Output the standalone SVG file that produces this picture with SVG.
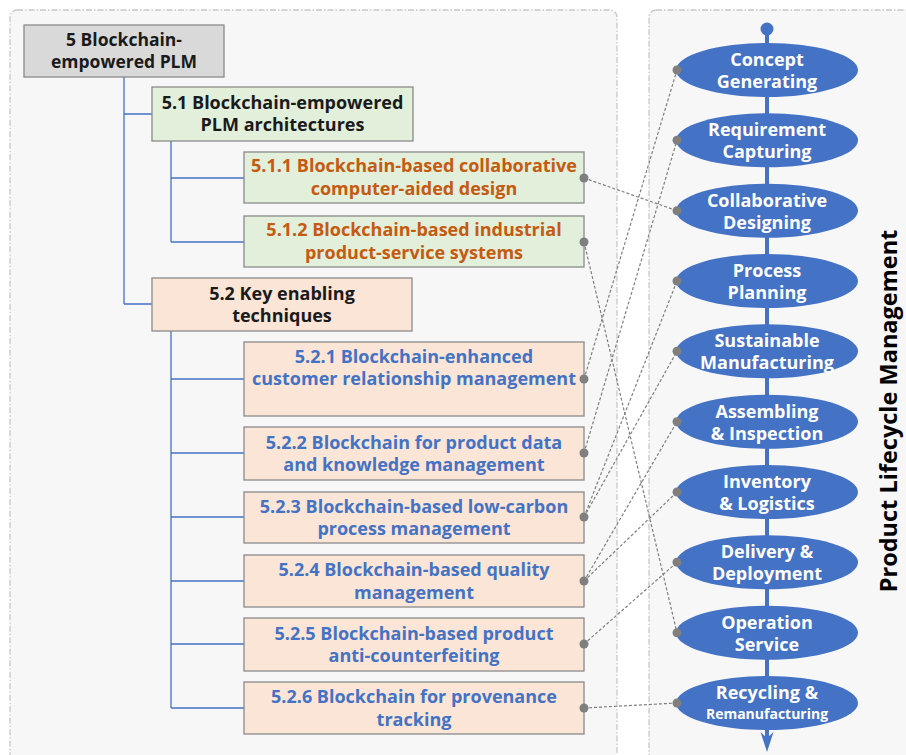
<svg xmlns="http://www.w3.org/2000/svg" width="906" height="755" viewBox="0 0 906 755">
  <style>
    text { font-family: "Open Sans", "Noto Sans", "Liberation Sans", sans-serif; font-weight: 700; text-anchor: middle; }
    .panel { fill: #f7f7f7; stroke: #c8c8c8; stroke-width: 1.3; stroke-dasharray: 6 2 1.5 2; }
    .box { stroke: #8a8a8a; stroke-width: 1.3; }
    .root { fill: #d9d9d9; }
    .green { fill: #e2efda; }
    .peach { fill: #fbe5d6; }
    .t-black { fill: #1a1a1a; font-size: 18px; }
    .t-orange { fill: #c55a11; font-size: 18px; }
    .t-blue { fill: #4472c4; font-size: 18px; }
    .tree { fill: none; stroke: #4472c4; stroke-width: 1.3; }
    .stage { fill: #4472c4; }
    .t-stage { fill: #ffffff; font-size: 18px; }
    .link { fill: none; stroke: #7f7f7f; stroke-width: 1.2; stroke-dasharray: 3 2; }
    .dot { fill: #7f7f7f; }
  </style>

  <rect width="906" height="755" fill="#ffffff"/>

  <!-- panels -->
  <rect class="panel" x="10" y="10" width="607" height="770" rx="7"/>
  <rect class="panel" x="649" y="10" width="280" height="770" rx="7"/>

  <!-- tree branches -->
  <g id="tree-lines">
    <path class="tree" d="M124 77 V304 M124 114 H152 M124 304 H152"/>
    <path class="tree" d="M171 141 V242 M171 178 H244 M171 242 H244"/>
    <path class="tree" d="M171 331 V708 M171 379 H244 M171 453 H244 M171 517 H244 M171 581 H244 M171 644 H244 M171 708 H244"/>
  </g>

  <!-- topic boxes -->
  <g id="n5">
    <rect class="box root" x="24" y="25" width="200" height="52"/>
    <text class="t-black" x="124" y="46" style="font-size:17.5px">5 Blockchain-</text>
    <text class="t-black" x="124" y="68" style="font-size:17.5px">empowered PLM</text>
  </g>
  <g id="n5-1">
    <rect class="box green" x="152" y="87" width="261" height="54"/>
    <text class="t-black" x="282.5" y="109">5.1 Blockchain-empowered</text>
    <text class="t-black" x="282.5" y="131">PLM architectures</text>
  </g>
  <g id="n5-1-1">
    <rect class="box green" x="244" y="152" width="340" height="51"/>
    <text class="t-orange" x="414" y="172">5.1.1 Blockchain-based collaborative</text>
    <text class="t-orange" x="414" y="195">computer-aided design</text>
  </g>
  <g id="n5-1-2">
    <rect class="box green" x="244" y="216" width="340" height="51"/>
    <text class="t-orange" x="414" y="236">5.1.2 Blockchain-based industrial</text>
    <text class="t-orange" x="414" y="259">product-service systems</text>
  </g>
  <g id="n5-2">
    <rect class="box peach" x="152" y="278" width="260" height="53"/>
    <text class="t-black" x="282" y="300">5.2 Key enabling</text>
    <text class="t-black" x="282" y="322">techniques</text>
  </g>
  <g id="n5-2-1">
    <rect class="box peach" x="244" y="342" width="340" height="74"/>
    <text class="t-blue" x="414" y="363">5.2.1 Blockchain-enhanced</text>
    <text class="t-blue" x="414" y="385">customer relationship management</text>
  </g>
  <g id="n5-2-2">
    <rect class="box peach" x="244" y="427" width="340" height="53"/>
    <text class="t-blue" x="414" y="449">5.2.2 Blockchain for product data</text>
    <text class="t-blue" x="414" y="471">and knowledge management</text>
  </g>
  <g id="n5-2-3">
    <rect class="box peach" x="244" y="492" width="340" height="51"/>
    <text class="t-blue" x="414" y="513">5.2.3 Blockchain-based low-carbon</text>
    <text class="t-blue" x="414" y="535">process management</text>
  </g>
  <g id="n5-2-4">
    <rect class="box peach" x="244" y="555" width="340" height="52"/>
    <text class="t-blue" x="414" y="576">5.2.4 Blockchain-based quality</text>
    <text class="t-blue" x="414" y="599">management</text>
  </g>
  <g id="n5-2-5">
    <rect class="box peach" x="244" y="618" width="340" height="53"/>
    <text class="t-blue" x="414" y="640">5.2.5 Blockchain-based product</text>
    <text class="t-blue" x="414" y="662">anti-counterfeiting</text>
  </g>
  <g id="n5-2-6">
    <rect class="box peach" x="244" y="682" width="340" height="52"/>
    <text class="t-blue" x="414" y="703">5.2.6 Blockchain for provenance</text>
    <text class="t-blue" x="414" y="726">tracking</text>
  </g>

  <!-- lifecycle axis -->
  <g id="axis">
    <line x1="767" y1="29" x2="767" y2="738" stroke="#4472c4" stroke-width="4"/>
    <circle cx="767" cy="29" r="6.5" fill="#4472c4"/>
    <polygon points="760.5,732 767,752 773.5,732 767,738" fill="#4472c4"/>
  </g>

  <!-- lifecycle stages -->
  <g id="s-concept">
    <ellipse class="stage" cx="767" cy="70" rx="91" ry="27"/>
    <text class="t-stage" x="767" y="66">Concept</text>
    <text class="t-stage" x="767" y="88">Generating</text>
  </g>
  <g id="s-requirement">
    <ellipse class="stage" cx="767" cy="140.3" rx="91" ry="27"/>
    <text class="t-stage" x="767" y="136.3">Requirement</text>
    <text class="t-stage" x="767" y="158.3">Capturing</text>
  </g>
  <g id="s-design">
    <ellipse class="stage" cx="767" cy="210.7" rx="91" ry="27"/>
    <text class="t-stage" x="767" y="206.7">Collaborative</text>
    <text class="t-stage" x="767" y="228.7">Designing</text>
  </g>
  <g id="s-planning">
    <ellipse class="stage" cx="767" cy="281" rx="91" ry="27"/>
    <text class="t-stage" x="767" y="277">Process</text>
    <text class="t-stage" x="767" y="299">Planning</text>
  </g>
  <g id="s-manufacturing">
    <ellipse class="stage" cx="767" cy="351.3" rx="91" ry="27"/>
    <text class="t-stage" x="767" y="347.3">Sustainable</text>
    <text class="t-stage" x="767" y="369.3">Manufacturing</text>
  </g>
  <g id="s-assembling">
    <ellipse class="stage" cx="767" cy="421.7" rx="91" ry="27"/>
    <text class="t-stage" x="767" y="417.7">Assembling</text>
    <text class="t-stage" x="767" y="439.7">&amp; Inspection</text>
  </g>
  <g id="s-inventory">
    <ellipse class="stage" cx="767" cy="492" rx="91" ry="27"/>
    <text class="t-stage" x="767" y="488">Inventory</text>
    <text class="t-stage" x="767" y="510">&amp; Logistics</text>
  </g>
  <g id="s-delivery">
    <ellipse class="stage" cx="767" cy="562.3" rx="91" ry="27"/>
    <text class="t-stage" x="767" y="558.3">Delivery &amp;</text>
    <text class="t-stage" x="767" y="580.3">Deployment</text>
  </g>
  <g id="s-operation">
    <ellipse class="stage" cx="767" cy="632.7" rx="91" ry="27"/>
    <text class="t-stage" x="767" y="628.7">Operation</text>
    <text class="t-stage" x="767" y="650.7">Service</text>
  </g>
  <g id="s-recycling">
    <ellipse class="stage" cx="767" cy="703" rx="91" ry="27"/>
    <text class="t-stage" x="767" y="699">Recycling &amp;</text>
    <text class="t-stage" x="767" y="719" style="font-size:14px">Remanufacturing</text>
  </g>

  <!-- topic-to-stage links -->
  <g id="links">
    <line class="link" x1="584" y1="178" x2="677" y2="210.7"/>
    <line class="link" x1="584" y1="242" x2="677" y2="632.7"/>
    <line class="link" x1="584" y1="379" x2="677" y2="70"/>
    <line class="link" x1="584" y1="453" x2="677" y2="140.3"/>
    <line class="link" x1="584" y1="517" x2="677" y2="281"/>
    <line class="link" x1="584" y1="517" x2="677" y2="351.3"/>
    <line class="link" x1="584" y1="581" x2="677" y2="421.7"/>
    <line class="link" x1="584" y1="581" x2="677" y2="492"/>
    <line class="link" x1="584" y1="644" x2="677" y2="562.3"/>
    <line class="link" x1="584" y1="708" x2="677" y2="703"/>
    <g class="dot">
      <circle cx="584" cy="178" r="4.5"/>
      <circle cx="584" cy="242" r="4.5"/>
      <circle cx="584" cy="379" r="4.5"/>
      <circle cx="584" cy="453" r="4.5"/>
      <circle cx="584" cy="517" r="4.5"/>
      <circle cx="584" cy="581" r="4.5"/>
      <circle cx="584" cy="644" r="4.5"/>
      <circle cx="584" cy="708" r="4.5"/>
      <circle cx="677" cy="70" r="4.5"/>
      <circle cx="677" cy="140.3" r="4.5"/>
      <circle cx="677" cy="210.7" r="4.5"/>
      <circle cx="677" cy="281" r="4.5"/>
      <circle cx="677" cy="351.3" r="4.5"/>
      <circle cx="677" cy="421.7" r="4.5"/>
      <circle cx="677" cy="492" r="4.5"/>
      <circle cx="677" cy="562.3" r="4.5"/>
      <circle cx="677" cy="632.7" r="4.5"/>
      <circle cx="677" cy="703" r="4.5"/>
    </g>
  </g>

  <!-- side title -->
  <text transform="translate(897,411) rotate(-90)" style="fill:#000000;font-size:23.5px">Product Lifecycle Management</text>
</svg>
